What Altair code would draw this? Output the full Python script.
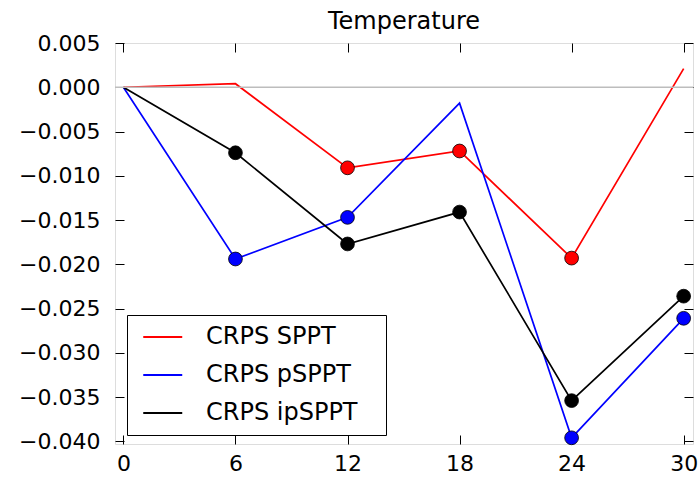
import altair as alt
import pandas as pd

hours = [0, 6, 12, 18, 24, 30]
series_names = ["CRPS SPPT", "CRPS pSPPT", "CRPS ipSPPT"]
series_colors = ["#ff0000", "#0000ff", "#000000"]
sppt = [0.0, 0.0004, -0.0091, -0.0072, -0.0193, 0.0021]
psppt = [0.0, -0.0194, -0.0147, -0.0018, -0.0396, -0.0261]
ipsppt = [0.0, -0.0074, -0.0177, -0.0141, -0.0354, -0.0236]
sppt_sig = [False, False, True, True, True, False]
psppt_sig = [False, True, True, False, True, True]
ipsppt_sig = [False, True, True, True, True, True]
y_ticks = [0.005, 0.0, -0.005, -0.010, -0.015, -0.020, -0.025, -0.030, -0.035, -0.040]
x_ticks = [0, 6, 12, 18, 24, 30]

rows = []
for order, (name, vals, sig) in enumerate(zip(series_names, [sppt, psppt, ipsppt],
                                               [sppt_sig, psppt_sig, ipsppt_sig])):
    for h, v, s in zip(hours, vals, sig):
        rows.append({"hour": h, "value": v, "series": name, "sig": s, "order": order})
df = pd.DataFrame(rows)

FONT = "DejaVu Sans"
xscale = alt.Scale(domain=[-0.45, 30.5], nice=False, zero=False)
yscale = alt.Scale(domain=[-0.0403, 0.005], nice=False, zero=False)
color = alt.Color(
    "series:N",
    scale=alt.Scale(domain=series_names, range=series_colors),
    sort=series_names,
    legend=alt.Legend(
        title=None,
        orient="none",
        legendX=12,
        legendY=272,
        symbolType="M-0.59,0H3.41",
        symbolSize=380,
        symbolStrokeWidth=2,
        labelFont=FONT,
        labelFontSize=24,
        labelColor="black",
        labelOffset=45,
        labelLimit=400,
        labelExpr="datum.label + '\u2800'",
        rowPadding=14,
        padding=10,
        strokeColor="black",
        fillColor="white",
        cornerRadius=0,
    ),
)

base = alt.Chart(df)

zero = alt.Chart(pd.DataFrame({"z": [0.0]})).mark_rule(color="#bdbdbd", strokeWidth=1.5).encode(
    y=alt.Y("z:Q", scale=yscale,
            axis=alt.Axis(orient="right", values=y_ticks, labels=False, domain=False, title=None,
                          grid=False, tickSize=9, offset=-9, tickColor="black", tickWidth=1)),
)

top_axis = alt.Chart(pd.DataFrame({"h": [0]})).mark_point(opacity=0).encode(
    x=alt.X("h:Q", scale=xscale,
            axis=alt.Axis(orient="top", values=x_ticks, labels=False, domain=False, title=None,
                          grid=False, tickSize=9, offset=-9, tickColor="black", tickWidth=1)),
)

lines = base.mark_line(strokeWidth=1.7).encode(
    x=alt.X("hour:Q", scale=xscale,
            axis=alt.Axis(orient="bottom", values=x_ticks, format="d", domain=False, grid=False,
                          tickSize=9, offset=-9, tickColor="black", tickWidth=1,
                          labelFont=FONT, labelFontSize=22, labelColor="black", labelPadding=9,
                          title=None)),
    y=alt.Y("value:Q", scale=yscale,
            axis=alt.Axis(orient="left", values=y_ticks, format=".3f", domain=False, grid=False,
                          tickSize=9, offset=-9, tickColor="black", tickWidth=1,
                          labelFont=FONT, labelFontSize=22, labelColor="black", labelPadding=15,
                          title=None)),
    color=color,
    detail="series:N",
    order=alt.Order("hour:Q"),
)

points = base.transform_filter(alt.datum.sig).mark_circle(
    size=190, opacity=1, stroke="black", strokeWidth=0.8
).encode(
    x=alt.X("hour:Q", scale=xscale, axis=None),
    y=alt.Y("value:Q", scale=yscale, axis=None),
    color=alt.Color("series:N", scale=alt.Scale(domain=series_names, range=series_colors),
                    legend=None),
)

chart = alt.layer(lines, points, zero, top_axis).resolve_axis(
    x="independent", y="independent"
).properties(
    width=578,
    height=401,
    title=alt.Title("Temperature", font=FONT, fontSize=24, fontWeight="normal",
                    color="black", offset=-2),
    padding={"left": 115, "top": 43, "right": 5, "bottom": 33},
    autosize=alt.AutoSizeParams(type="none"),
).configure_view(stroke="black", strokeWidth=1.5).configure(background="white")

chart.save("out.html", embed_options={"renderer": "svg", "actions": False})
